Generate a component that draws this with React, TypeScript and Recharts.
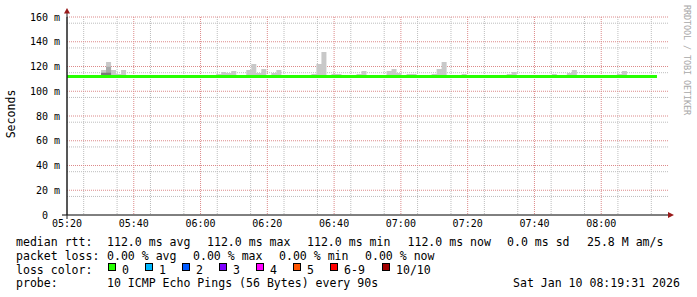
import { ComposedChart, Area, Line, XAxis, YAxis, CartesianGrid } from 'recharts';

// time axis: minutes after 05:20, one ping round every 90 s
const axisStart = 5 * 60 + 20;
const firstSlot = -0.3; // first round at 05:19:42
const slotLength = 1.5;
const slotCount = 118;
const medianRtt = 112;

// smoke (ms) per slot, only the slots where it shows above the median
const smokeSlots = [7, 8, 9, 10, 11, 30, 31, 32, 33, 36, 37, 38, 39, 41, 42, 49, 50, 51, 53, 54,
  58, 59, 64, 65, 66, 68, 69, 73, 74, 75, 79, 88, 89, 97, 100, 101, 110, 111];
const smokeTop = [117.2, 123.6, 117.2, 113.9, 117.2, 113.9, 115.6, 114.7, 116.4, 117.2, 122.0, 114.7, 118.0, 114.7, 117.2, 113.9, 122.0, 131.7, 113.9, 113.9,
  113.9, 116.4, 116.4, 118.0, 114.7, 113.9, 113.9, 113.9, 118.0, 123.6, 113.9, 113.9, 115.6, 113.9, 114.7, 117.2, 113.9, 116.4];
const smokeMidSlots = [8];
const smokeMid = [119.8];
const smokeDarkSlots = [7, 8];
const smokeDark = [115.0, 115.0];

const timeTicks = [0, 20, 40, 60, 80, 100, 120, 140, 160];
const valueTicks = [0, 20, 40, 60, 80, 100, 120, 140, 160];
const minorTimes = [5, 10, 15, 25, 30, 35, 45, 50, 55, 65, 70, 75, 85, 90, 95, 105, 110, 115, 125, 130, 135, 145, 150, 155, 165, 170, 175];
const minorValues = [5, 10, 15, 25, 30, 35, 45, 50, 55, 65, 70, 75, 85, 90, 95, 105, 110, 115, 125, 130, 135, 145, 150, 155];
const majorTimes = [20, 40, 60, 80, 100, 120, 140, 160];
const majorValues = [20, 40, 60, 80, 100, 120, 140, 160];

const lossColors = ['#26ff00', '#00b8ff', '#0059ff', '#7e00ff', '#ff00ff', '#ff5500', '#ff0000', '#a10000'];
const lossLabels = ['0', '1', '2', '3', '4', '5', '6-9', '10/10'];
const lossX = [108, 145, 182, 219, 256, 293, 330, 382];

const lookup = (slots: number[], vals: number[], k: number) => {
  const i = slots.indexOf(k);
  return i >= 0 ? vals[i] : medianRtt;
};

const rows = [];
for (let k = 0; k <= slotCount; k++) {
  const s = Math.min(k, slotCount - 1);
  rows.push({
    t: firstSlot + k * slotLength,
    median: medianRtt,
    light: [medianRtt, lookup(smokeSlots, smokeTop, s)],
    mid: [medianRtt, lookup(smokeMidSlots, smokeMid, s)],
    dark: [medianRtt, lookup(smokeDarkSlots, smokeDark, s)],
  });
}

const mono = '"DejaVu Sans Mono", monospace';

const fmtTime = (m: number) => {
  const tot = axisStart + m;
  const h = Math.floor(tot / 60);
  const mm = tot % 60;
  return `${String(h).padStart(2, '0')}:${String(mm).padStart(2, '0')}`;
};

const TimeTick = (props: any) => {
  const { x, y, payload } = props;
  return (
    <text x={x} y={y + 12} textAnchor="middle" fontFamily={mono} fontSize={10} fill="#000">
      {fmtTime(payload.value)}
    </text>
  );
};

const ValueTick = (props: any) => {
  const { x, y, payload } = props;
  const v = payload.value;
  return (
    <text x={v === 0 ? x - 19 : x - 7} y={y + 3.5} textAnchor="end" fontFamily={mono} fontSize={10} fill="#000">
      {v === 0 ? '0' : `${v} m`}
    </text>
  );
};

export default function App() {
  const fs = 11.55;
  return (
    <div style={{ position: 'absolute', left: 0, top: 0, width: 697, height: 297, background: '#fff' }}>
      <ComposedChart width={697} height={297} data={rows} margin={{ top: 17, right: 29, bottom: 0, left: 0 }}>
        <CartesianGrid horizontalValues={minorValues} verticalValues={minorTimes} stroke="#bdbdbd" strokeDasharray="1 1" />
        <CartesianGrid horizontalValues={majorValues} verticalValues={majorTimes} stroke="#dc8a8a" strokeDasharray="1 1" />
        <XAxis
          dataKey="t"
          type="number"
          domain={[0, 180]}
          ticks={timeTicks}
          allowDataOverflow
          height={82}
          tickSize={0}
          tickMargin={0}
          tickLine={false}
          axisLine={{ stroke: '#000' }}
          tick={<TimeTick />}
        />
        <YAxis
          type="number"
          domain={[0, 160]}
          ticks={valueTicks}
          allowDataOverflow
          width={67}
          tickSize={0}
          tickMargin={0}
          tickLine={false}
          axisLine={{ stroke: '#202020' }}
          tick={<ValueTick />}
        />
        <Area dataKey="light" type="stepAfter" stroke="none" fill="#c8c8c8" fillOpacity={1} isAnimationActive={false} dot={false} activeDot={false} />
        <Area dataKey="mid" type="stepAfter" stroke="none" fill="#a8a8a8" fillOpacity={1} isAnimationActive={false} dot={false} activeDot={false} />
        <Area dataKey="dark" type="stepAfter" stroke="none" fill="#7a7a7a" fillOpacity={1} isAnimationActive={false} dot={false} activeDot={false} />
        <Line dataKey="median" type="stepAfter" stroke="#26ff00" strokeWidth={3} dot={false} activeDot={false} isAnimationActive={false} />
      </ComposedChart>
      <svg width={697} height={297} style={{ position: 'absolute', left: 0, top: 0, pointerEvents: 'none' }}>
        <line x1={62} y1={215} x2={67} y2={215} stroke="#000" />
        <line x1={67} y1={13} x2={67} y2={219} stroke="#202020" />
        <polygon points="668,212 668,218 674,215" fill="#991a1a" />
        <polygon points="64,13.5 70,13.5 67,8" fill="#991a1a" />
        <text transform="translate(14.5 114) rotate(-90)" textAnchor="middle" fontFamily={mono} fontSize={fs} fill="#000">Seconds</text>
        <text transform="translate(684 5) rotate(90)" fontFamily={mono} fontSize={8.5} fill="#a8a8a8" textLength={110} lengthAdjust="spacing">RRDTOOL / TOBI OETIKER</text>
        <g fontFamily={mono} fontSize={fs} fill="#000" style={{ whiteSpace: 'pre' }}>
          <text x={16} y={245.5}>median rtt:</text>
          <text x={107} y={245.5}>112.0 ms avg</text>
          <text x={207} y={245.5}>112.0 ms max</text>
          <text x={307} y={245.5}>112.0 ms min</text>
          <text x={407.5} y={245.5}>112.0 ms now</text>
          <text x={507} y={245.5}>0.0 ms sd</text>
          <text x={587} y={245.5}>25.8 M am/s</text>
          <text x={16} y={259.5}>packet loss:</text>
          <text x={107} y={259.5}>0.00 % avg</text>
          <text x={193} y={259.5}>0.00 % max</text>
          <text x={279} y={259.5}>0.00 % min</text>
          <text x={365} y={259.5}>0.00 % now</text>
          <text x={16} y={273.5}>loss color:</text>
          {lossColors.map((c, i) => (
            <g key={i}>
              <rect x={lossX[i] + 0.5} y={263.5} width={7} height={7} fill={c} stroke="#000" strokeWidth={1} />
              <text x={lossX[i] + 14} y={273.5}>{lossLabels[i]}</text>
            </g>
          ))}
          <text x={16} y={287}>probe:</text>
          <text x={107} y={287}>10 ICMP Echo Pings (56 Bytes) every 90s</text>
          <text x={513} y={287}>Sat Jan 10 08:19:31 2026</text>
        </g>
      </svg>
    </div>
  );
}
